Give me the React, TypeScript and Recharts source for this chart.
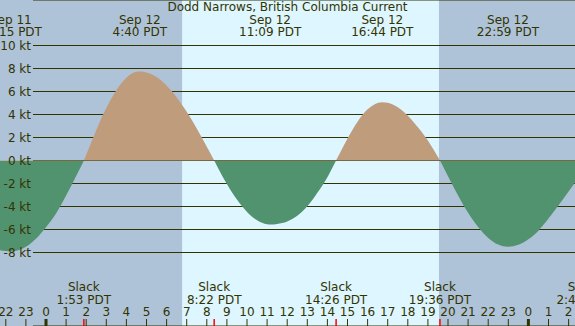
import { AreaChart, Area, XAxis, YAxis, CartesianGrid, ReferenceArea, ReferenceLine } from "recharts";

// hours from Sep 12 00:00 PDT, current in knots (flood +, ebb -)
const hours = [
  -2.29, -2, -1.75, -1.5, -1, -0.5, 0, 0.5, 1, 1.5, 1.883,
  2, 2.5, 3, 3.5, 4, 4.5, 4.667, 5, 5.5, 6, 6.5, 7, 7.5, 8, 8.367,
  8.5, 9, 9.5, 10, 10.5, 11, 11.15, 11.5, 12, 12.5, 13, 13.5, 14, 14.433,
  14.5, 15, 15.5, 16, 16.5, 16.733, 17, 17.5, 18, 18.5, 19, 19.5, 19.6,
  20, 20.5, 21, 21.5, 22, 22.5, 22.983, 23.5, 24, 24.5, 25, 25.5, 26, 26.32,
];
const knots = [
  -7.8, -7.88, -7.9, -7.85, -7.5, -6.8, -5.8, -4.6, -3.05, -1.35, 0,
  0.5, 2.64, 4.56, 6.12, 7.2, 7.71, 7.74, 7.66, 7.26, 6.53, 5.51, 4.24, 2.79, 1.2, 0,
  -0.45, -2.05, -3.4, -4.47, -5.2, -5.55, -5.57, -5.52, -5.3, -4.8, -3.98, -2.8, -1.45, 0,
  0.23, 1.92, 3.38, 4.45, 5.01, 5.07, 5.02, 4.63, 3.9, 2.9, 1.75, 0.3, 0,
  -1.38, -3.04, -4.54, -5.79, -6.73, -7.31, -7.5, -7.33, -6.85, -6.1, -5.05, -3.9, -2.7, -1.9,
];

const peakHours = [-1.75, 4.667, 11.15, 16.733, 22.983];
const peakDates = ["Sep 11", "Sep 12", "Sep 12", "Sep 12", "Sep 12"];
const peakTimes = ["22:15 PDT", "4:40 PDT", "11:09 PDT", "16:44 PDT", "22:59 PDT"];

const slackHours = [1.883, 8.367, 14.433, 19.6, 26.75];
const slackTimes = ["1:53 PDT", "8:22 PDT", "14:26 PDT", "19:36 PDT", "2:45 PDT"];

const sunrise = 6.77;
const sunset = 19.55;

const hourTicks = [-2, -1, 0, 1, 2, 3, 4, 5, 6, 7, 8, 9, 10, 11, 12, 13, 14, 15, 16, 17, 18, 19, 20, 21, 22, 23, 24, 25, 26];
const ktTicks = [-8, -6, -4, -2, 0, 2, 4, 6, 8, 10];

const data = hours.map((h, i) => ({ h, kt: knots[i] }));

const W = 575;
const H = 326;
const X_DOMAIN: [number, number] = [-2.2886, 26.318];
const Y_DOMAIN: [number, number] = [-14.391, 13.957];
const zeroOffset = Y_DOMAIN[1] / (Y_DOMAIN[1] - Y_DOMAIN[0]);

const INK = "#333300";
const FONT = "'DejaVu Sans', sans-serif";
const NIGHT = "#aec2d8";
const DAY = "#ddf6ff";
const FLOOD = "#bf9c7b";
const EBB = "#52936f";

const MARGIN = { top: 0, right: 0, bottom: 0, left: 0 };

const PeakLabel = (props: any) => {
  const x = props.viewBox?.x ?? 0;
  return (
    <text x={x} textAnchor="middle" fill={INK} fontSize={12} fontFamily={FONT}>
      <tspan x={x} y={24}>{props.date}</tspan>
      <tspan x={x} y={35.5}>{props.time}</tspan>
    </text>
  );
};

const SlackLabel = (props: any) => {
  const x = props.viewBox?.x ?? 0;
  return (
    <g>
      <text x={x} textAnchor="middle" fill={INK} fontSize={12} fontFamily={FONT}>
        <tspan x={x} y={291}>Slack</tspan>
        <tspan x={x} y={303.5}>{props.time}</tspan>
      </text>
      <line x1={x} x2={x} y1={319} y2={326} stroke="#ff0000" strokeWidth={1.5} />
    </g>
  );
};

const HourTick = (props: any) => {
  const { x, payload } = props;
  const hr = ((payload.value % 24) + 24) % 24;
  return (
    <g>
      <text x={x} y={315.5} textAnchor="middle" fill={INK} fontSize={12} fontFamily={FONT}>
        {hr}
      </text>
      <line x1={x} x2={x} y1={319} y2={326} stroke={INK} strokeWidth={hr === 0 ? 3 : 1} />
    </g>
  );
};

const KtTick = (props: any) => {
  const { y, payload } = props;
  return (
    <text x={31} y={y} dy={4} textAnchor="end" fill={INK} fontSize={12} fontFamily={FONT}>
      {`${payload.value} kt`}
    </text>
  );
};

const NoTick = () => <g />;

export default function App() {
  return (
    <div style={{ position: "relative", width: W, height: H, background: DAY, overflow: "hidden" }}>
      <style>{"body{margin:0}"}</style>
      {/* back layer: day/night bands and the kt grid */}
      <div style={{ position: "absolute", left: 0, top: 0 }}>
        <AreaChart width={W} height={H} data={data} margin={MARGIN}>
          <ReferenceArea x1={X_DOMAIN[0]} x2={sunrise} fill={NIGHT} fillOpacity={1} stroke="none" ifOverflow="visible" zIndex={-300} />
          <ReferenceArea x1={sunset} x2={X_DOMAIN[1]} fill={NIGHT} fillOpacity={1} stroke="none" ifOverflow="visible" zIndex={-300} />
          <CartesianGrid vertical={false} x={33} width={W - 33} stroke={INK} strokeOpacity={1} zIndex={-100} />
          <XAxis dataKey="h" type="number" domain={X_DOMAIN} allowDataOverflow mirror axisLine={false} tickLine={false} tick={<NoTick />} />
          <YAxis
            type="number"
            domain={Y_DOMAIN}
            allowDataOverflow
            ticks={ktTicks}
            interval={0}
            mirror
            axisLine={false}
            tickLine={false}
            tick={<NoTick />}
          />
        </AreaChart>
      </div>
      {/* front layer: current curve, axes and labels */}
      <div style={{ position: "absolute", left: 0, top: 0 }}>
        <AreaChart width={W} height={H} data={data} margin={MARGIN}>
          <defs>
            <linearGradient id="splitFill" gradientUnits="userSpaceOnUse" x1={0} y1={0} x2={0} y2={H}>
              <stop offset={zeroOffset} stopColor={FLOOD} />
              <stop offset={zeroOffset} stopColor={EBB} />
            </linearGradient>
          </defs>
          <XAxis
            dataKey="h"
            type="number"
            domain={X_DOMAIN}
            allowDataOverflow
            ticks={hourTicks}
            interval={0}
            mirror
            axisLine={false}
            tickLine={false}
            tick={<HourTick />}
          />
          <YAxis
            type="number"
            domain={Y_DOMAIN}
            allowDataOverflow
            ticks={ktTicks}
            interval={0}
            mirror
            axisLine={false}
            tickLine={false}
            tick={<KtTick />}
          />
          <Area
            type="monotone"
            dataKey="kt"
            baseValue={0}
            stroke="none"
            fill="url(#splitFill)"
            fillOpacity={1}
            isAnimationActive={false}
            dot={false}
            activeDot={false}
          />
          {peakHours.map((h, i) => (
            <ReferenceLine
              key={`p${i}`}
              x={h}
              stroke="none"
              ifOverflow="visible"
              label={<PeakLabel date={peakDates[i]} time={peakTimes[i]} />}
            />
          ))}
          {slackHours.map((h, i) => (
            <ReferenceLine
              key={`s${i}`}
              x={h}
              stroke="none"
              ifOverflow="visible"
              label={<SlackLabel time={slackTimes[i]} />}
            />
          ))}
        </AreaChart>
      </div>
      <div
        style={{
          position: "absolute",
          top: 0,
          left: 0,
          width: W,
          textAlign: "center",
          fontFamily: FONT,
          fontSize: 12,
          lineHeight: "14px",
          color: INK,
        }}
      >
        Dodd Narrows, British Columbia Current
      </div>
    </div>
  );
}
